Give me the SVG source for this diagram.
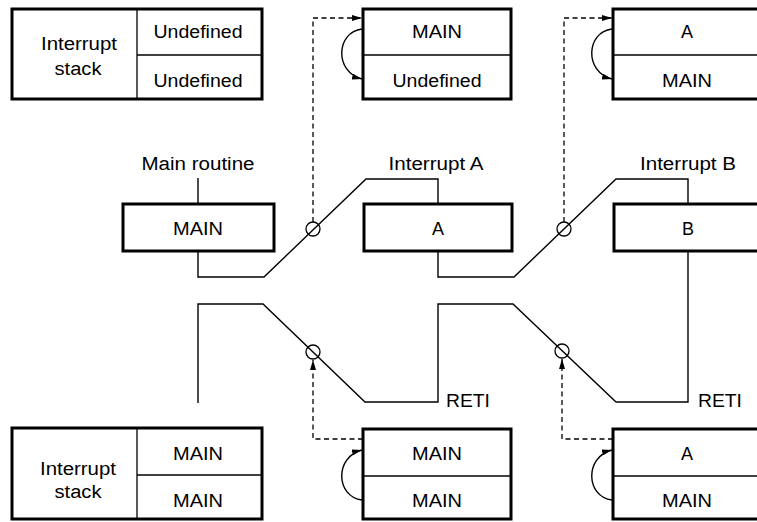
<svg xmlns="http://www.w3.org/2000/svg" width="757" height="522" viewBox="0 0 757 522">
<style>
text{font-family:"Liberation Sans",Arial,Helvetica,sans-serif;font-size:18px;fill:#000;text-anchor:middle}
.box{fill:#fff;stroke:#000;stroke-width:3}
.div{stroke:#000;stroke-width:1.3;fill:none}
.ln{stroke:#000;stroke-width:1.4;fill:none}
.dash{stroke:#000;stroke-width:1.3;fill:none;stroke-dasharray:5,3.5}
.cir{fill:none;stroke:#000;stroke-width:1.3}
</style>
<defs>
<marker id="ah" viewBox="0 0 10 6" refX="10" refY="3" markerWidth="10" markerHeight="6" markerUnits="userSpaceOnUse" orient="auto">
<path d="M0,0 L10,3 L0,6 Z" fill="#000"/>
</marker>
</defs>

<g id="stack-top-left">
<rect class="box" x="12" y="9" width="250" height="90"/>
<line class="div" x1="137" y1="9" x2="137" y2="99"/>
<line class="div" x1="137" y1="55" x2="262" y2="55"/>
<text x="79" y="50" textLength="76" lengthAdjust="spacingAndGlyphs">Interrupt</text>
<text x="78" y="75" textLength="47" lengthAdjust="spacingAndGlyphs">stack</text>
<text x="198" y="38" textLength="89" lengthAdjust="spacingAndGlyphs">Undefined</text>
<text x="198" y="87" textLength="89" lengthAdjust="spacingAndGlyphs">Undefined</text>
</g>

<g id="stack-top-mid">
<rect class="box" x="363" y="9" width="148" height="90"/>
<line class="div" x1="363" y1="55" x2="511" y2="55"/>
<text x="437" y="38" textLength="50" lengthAdjust="spacingAndGlyphs">MAIN</text>
<text x="437" y="87" textLength="89" lengthAdjust="spacingAndGlyphs">Undefined</text>
</g>

<g id="stack-top-right">
<rect class="box" x="613" y="9" width="150" height="90"/>
<line class="div" x1="613" y1="55" x2="763" y2="55"/>
<text x="687" y="38">A</text>
<text x="687" y="87" textLength="50" lengthAdjust="spacingAndGlyphs">MAIN</text>
</g>

<g id="main-routine">
<text x="198" y="170" textLength="113" lengthAdjust="spacingAndGlyphs">Main routine</text>
<rect class="box" x="123" y="204" width="151" height="47"/>
<text x="198" y="235" textLength="50" lengthAdjust="spacingAndGlyphs">MAIN</text>
</g>

<g id="interrupt-a">
<text x="436" y="170" textLength="95" lengthAdjust="spacingAndGlyphs">Interrupt A</text>
<rect class="box" x="364" y="204" width="148" height="47"/>
<text x="438" y="235">A</text>
</g>

<g id="interrupt-b">
<text x="688" y="170" textLength="96" lengthAdjust="spacingAndGlyphs">Interrupt B</text>
<rect class="box" x="614" y="204" width="150" height="47"/>
<text x="688" y="235">B</text>
</g>

<g id="reti-labels">
<text x="468" y="407" textLength="44" lengthAdjust="spacingAndGlyphs">RETI</text>
<text x="720" y="407" textLength="44" lengthAdjust="spacingAndGlyphs">RETI</text>
</g>

<g id="stack-bottom-left">
<rect class="box" x="12" y="428" width="250" height="91"/>
<line class="div" x1="137" y1="428" x2="137" y2="519"/>
<line class="div" x1="137" y1="475" x2="262" y2="475"/>
<text x="78" y="475" textLength="76" lengthAdjust="spacingAndGlyphs">Interrupt</text>
<text x="78" y="498" textLength="47" lengthAdjust="spacingAndGlyphs">stack</text>
<text x="198" y="460" textLength="50" lengthAdjust="spacingAndGlyphs">MAIN</text>
<text x="198" y="507" textLength="50" lengthAdjust="spacingAndGlyphs">MAIN</text>
</g>

<g id="stack-bottom-mid">
<rect class="box" x="363" y="429" width="148" height="90"/>
<line class="div" x1="363" y1="476" x2="511" y2="476"/>
<text x="437" y="460" textLength="50" lengthAdjust="spacingAndGlyphs">MAIN</text>
<text x="437" y="507" textLength="50" lengthAdjust="spacingAndGlyphs">MAIN</text>
</g>

<g id="stack-bottom-right">
<rect class="box" x="613" y="429" width="150" height="90"/>
<line class="div" x1="613" y1="476" x2="763" y2="476"/>
<text x="687" y="460">A</text>
<text x="687" y="507" textLength="50" lengthAdjust="spacingAndGlyphs">MAIN</text>
</g>

<g id="connectors">
<!-- flow lines -->
<path class="ln" d="M198,178 V204"/>
<path class="ln" d="M198,251 V277 H264 L366,179 H438 V204"/>
<path class="ln" d="M438,251 V277 H514 L616,179 H688 V204"/>
<path class="ln" d="M688,251 V402 H616 L513,304 H438 V402 H365 L263,304 H198 V403"/>
<!-- circles -->
<circle class="cir" cx="313" cy="229" r="7"/>
<circle class="cir" cx="564" cy="229" r="7"/>
<circle class="cir" cx="313" cy="352" r="7"/>
<circle class="cir" cx="562" cy="351" r="7"/>
<!-- dashed arrows -->
<path class="dash" d="M313,222 V18 H362" marker-end="url(#ah)"/>
<path class="dash" d="M564,222 V18 H612" marker-end="url(#ah)"/>
<path class="dash" d="M363,439 H313 V360" marker-end="url(#ah)"/>
<path class="dash" d="M613,439 H562 V359" marker-end="url(#ah)"/>
<!-- curved push/pop arrows -->
<path class="ln" d="M362,29 C336,32 334,72 362,79" marker-end="url(#ah)"/>
<path class="ln" d="M612,29 C586,32 584,72 612,79" marker-end="url(#ah)"/>
<path class="ln" d="M362,500 C336,497 334,457 362,450" marker-end="url(#ah)"/>
<path class="ln" d="M612,500 C586,497 584,457 612,450" marker-end="url(#ah)"/>
</g>
</svg>
